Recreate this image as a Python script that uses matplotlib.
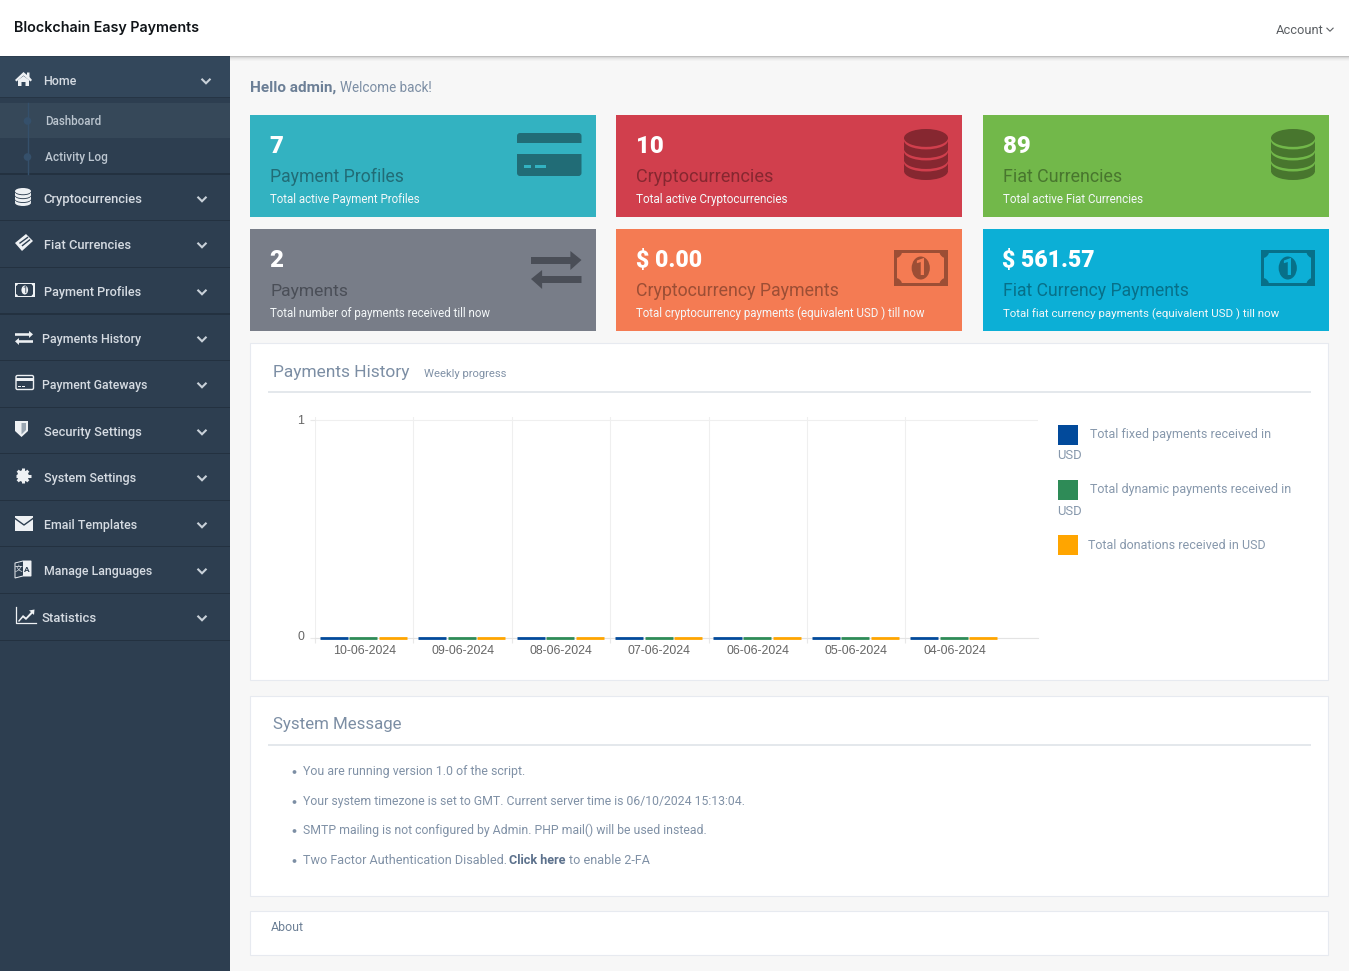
import matplotlib
matplotlib.use('Agg')
import matplotlib.pyplot as plt
import numpy as np
from matplotlib.patches import Rectangle, Ellipse, Circle, Polygon, FancyBboxPatch

# chart data
dates = ['10-06-2024', '09-06-2024', '08-06-2024', '07-06-2024', '06-06-2024', '05-06-2024', '04-06-2024']
fixed_usd = [0, 0, 0, 0, 0, 0, 0]
dynamic_usd = [0, 0, 0, 0, 0, 0, 0]
donations_usd = [0, 0, 0, 0, 0, 0, 0]
series_names = ['Total fixed payments received in', 'Total dynamic payments received in', 'Total donations received in USD']
series_colors = ['#024a9b', '#2e8b57', '#ffa500']

# sidebar: label, text left, text right, text y
menu_items = [
    ('Home', 43.5, 77, 80.5),
    ('Cryptocurrencies', 43.5, 142.5, 198.5),
    ('Fiat Currencies', 43.5, 130, 244.5),
    ('Payment Profiles', 43.5, 140.5, 291.5),
    ('Payments History', 41.5, 141, 338.5),
    ('Payment Gateways', 41.5, 147, 384.5),
    ('Security Settings', 43.5, 141.5, 431.5),
    ('System Settings', 43.5, 136, 477.5),
    ('Email Templates', 43.5, 137, 524.5),
    ('Manage Languages', 43.5, 152.5, 570.5),
    ('Statistics', 41, 96, 617.5),
]
separators = [174, 220.5, 267.5, 314, 360.5, 407.5, 453.5, 500.5, 546.5, 593.5, 640.5]

# stat cards: box, colours, number, number size, title, subtitle, right edges of title and subtitle
cards = [
    (250, 115, '#33b2c1', '#216c76', '7', 24, 'Payment Profiles', 'Total active Payment Profiles', 404, 420.5),
    (616, 115, '#d13f4d', '#862730', '10', 24, 'Cryptocurrencies', 'Total active Cryptocurrencies', 773, 788.5),
    (983, 115, '#72b84a', '#48762e', '89', 24, 'Fiat Currencies', 'Total active Fiat Currencies', 1122.5, 1144),
    (250, 229, '#787d88', '#4a4e57', '2', 24, 'Payments', 'Total number of payments received till now', 348, 491),
    (616, 229, '#f47b53', '#9c4e35', '$ 0.00', 23, 'Cryptocurrency Payments', 'Total cryptocurrency payments (equivalent USD ) till now', 840, 926),
    (983, 229, '#0cafd6', '#077089', '$ 561.57', 23, 'Fiat Currency Payments', 'Total fiat currency payments (equivalent USD ) till now', 1190, 1279),
]

messages = [
    ('You are running version 1.0 of the script.', 525, 771),
    ('Your system timezone is set to GMT. Current server time is 06/10/2024 15:13:04.', 745, 801),
    ('SMTP mailing is not configured by Admin. PHP mail() will be used instead.', 707, 830),
    ('Two Factor Authentication Disabled.', 505.5, 860),
]

W, H = 1349, 971
FONT = 'Roboto'
SIDE_BG = '#2d3e50'
ICON = '#eef1f4'
LABEL = '#7c8ea4'

fig = plt.figure(figsize=(W / 100, H / 100), dpi=100, facecolor='#f7f7f7')
bg = fig.add_axes([0, 0, 1, 1], zorder=0)
bg.set_xlim(0, W)
bg.set_ylim(H, 0)
bg.axis('off')
renderer = fig.canvas.get_renderer()


def rect(x0, y0, x1, y1, color, **kw):
    bg.add_patch(Rectangle((x0, y0), x1 - x0, y1 - y0, facecolor=color, edgecolor='none', **kw))


def put(x0, x1, y, s, color, weight='normal', family=FONT, px=None):
    # size the text so that it spans x0..x1 (or use px), y is the middle of the lower case letters
    t = bg.text(x0, y, s, color=color, fontsize=10, fontweight=weight, family=family, va='baseline', ha='left')
    size = px * 0.72 if px else 10 * (x1 - x0) / t.get_window_extent(renderer).width
    t.set_fontsize(size)
    t.set_y(y + 0.26 * size / 0.72 + 1.2)
    return t


def chevron(x, y, w, h, color, lw=1.5):
    bg.plot([x - w / 2, x, x + w / 2], [y - h / 2, y + h / 2, y - h / 2], color=color, lw=lw,
            solid_capstyle='butt', solid_joinstyle='miter')


def database(x0, x1, y0, y1, col, back):
    w = x1 - x0
    cx = (x0 + x1) / 2
    eh = (y1 - y0) * 0.35
    ys = np.linspace(y0 + eh / 2, y1 - eh / 2, 4)
    gap = (y1 - y0) * 0.05
    bg.add_patch(Ellipse((cx, ys[3]), w, eh, fc=col, ec='none'))
    for k in [2, 1, 0]:
        rect(x0, ys[k], x1, ys[k + 1] - gap * 0.4, col)
        bg.add_patch(Ellipse((cx, ys[k] + gap), w, eh, fc=back, ec='none'))
        bg.add_patch(Ellipse((cx, ys[k]), w, eh, fc=col, ec='none'))


def exchange(x0, x1, y0, y1, col):
    # 50x38 box, shape taken from the big card icon
    def pts(p):
        return [(x0 + a / 50 * (x1 - x0), y0 + b / 38 * (y1 - y0)) for a, b in p]
    bg.add_patch(Polygon(pts([(0, 6), (39, 6), (39, 0), (50, 9), (39, 19), (39, 13), (0, 13)]), fc=col, ec='none'))
    bg.add_patch(Polygon(pts([(50, 25), (11, 25), (11, 19), (0, 28), (11, 38), (11, 32), (50, 32)]), fc=col, ec='none'))


def money(x0, x1, y0, y1, col, back, weight='bold'):
    w = x1 - x0
    h = y1 - y0
    m = w * 0.06
    outer = Rectangle((x0, y0), w, h, fc=col, ec='none')
    bg.add_patch(outer)
    rect(x0 + m, y0 + m, x1 - m, y1 - m, back)
    r = w * 0.16
    for cx in (x0, x1):
        for cy in (y0, y1):
            notch = Circle((cx, cy), r, fc=col, ec='none')
            bg.add_patch(notch)
            notch.set_clip_path(outer)
    bg.add_patch(Ellipse(((x0 + x1) / 2, (y0 + y1) / 2), w * 0.34, h * 0.64, fc=col, ec='none'))
    bg.text((x0 + x1) / 2, (y0 + y1) / 2 + h * 0.01, '1', color=back, fontsize=h * 0.46,
            fontweight=weight, family=FONT, ha='center', va='center')


# page frame
rect(0, 0, W, 56, '#ffffff')
for i, a in enumerate([0.22, 0.12, 0.07, 0.04, 0.02]):
    rect(230, 56 + i, W, 57 + i, '#000000', alpha=a)
rect(0, 56, 230, H, SIDE_BG)
rect(0, 57, 230, 97, '#33475b')
rect(0, 97, 230, 98.5, '#263545')
rect(0, 103, 230, 138, '#364859')
bg.plot([27.5, 27.5], [103, 174], color='#35506b', lw=1.0)
for y in [121, 157]:
    bg.add_patch(Circle((27.5, y), 3.8, fc='#35506b', ec='none'))
for y in separators:
    rect(0, y - 0.6, 230, y + 0.6, '#233140')

put(14, 199, 27, 'Blockchain Easy Payments', '#101418', weight=600, family='Inter')
put(1275.5, 1323, 29, 'Account', '#5b5f63')
chevron(1330, 29.5, 7, 3.5, '#5b5f63', lw=0.8)

for name, x0, x1, y in menu_items:
    put(x0, x1, y, name, '#d5dbe2', weight=500)
    chevron(206 if name == 'Home' else 202, y + 0.5, 9, 4.5, '#c9d1d9')
put(45, 101, 120.5, 'Dashboard', '#bcc6d0', weight=500)
put(45, 107.5, 156.5, 'Activity Log', '#bcc6d0', weight=500)

# sidebar icons
bg.add_patch(Polygon([(15, 80), (23.5, 72), (27, 75), (27, 72.5), (29.5, 72.5), (29.5, 77), (32, 80), (30.5, 81.5),
                      (23.5, 75.5), (16.5, 81.5)], fc=ICON, ec='none'))
bg.add_patch(Polygon([(18, 80), (23.5, 76), (29, 80), (29, 86), (25.5, 86), (25.5, 82), (21.5, 82), (21.5, 86), (18, 86)],
                     fc=ICON, ec='none'))
database(15, 31, 188, 206, ICON, SIDE_BG)
bg.add_patch(Polygon([(15, 243), (26, 234), (33, 241), (22, 251)], fc=ICON, ec='none'))
bg.plot([20, 27.5], [243, 237.5], color=SIDE_BG, lw=1.0)
bg.plot([22.5, 29.5], [245.5, 240], color=SIDE_BG, lw=1.0)
money(15, 34.5, 283, 297, ICON, SIDE_BG, weight='normal')
exchange(15, 33, 331, 345, ICON)
bg.add_patch(FancyBboxPatch((16, 375.5), 17.5, 14, boxstyle='round,pad=0,rounding_size=1.5', fc='none', ec=ICON, lw=1.0))
rect(15.5, 378, 34, 381.5, ICON)
rect(18, 386, 20.5, 387, ICON)
rect(21.5, 386, 25, 387, ICON)
bg.add_patch(Polygon([(15, 421), (28, 421), (28, 431), (21.5, 437), (15, 431)], fc=ICON, ec='none'))
bg.add_patch(Polygon([(21.5, 423), (26, 423), (26, 430), (21.5, 434.5)], fc='#9aa6b2', ec='none'))
for a in np.arange(0, 180, 45):
    bg.plot([23 - 7.5 * np.cos(np.radians(a)), 23 + 7.5 * np.cos(np.radians(a))],
            [476 - 7.5 * np.sin(np.radians(a)), 476 + 7.5 * np.sin(np.radians(a))], color=ICON, lw=2.2, solid_capstyle='butt')
bg.add_patch(Circle((23, 476), 5.8, fc=ICON, ec='none'))
bg.add_patch(Circle((23, 476), 2.3, fc=SIDE_BG, ec='none'))
rect(15, 516, 33, 531, ICON)
bg.plot([15, 24, 33], [518.5, 525, 518.5], color=SIDE_BG, lw=1.0)
bg.add_patch(Polygon([(15, 563), (23, 561), (31, 561), (31, 576), (23, 576), (15, 578)], fc='none', ec=ICON, lw=0.7))
rect(23, 561, 31, 576, ICON)
bg.text(27, 569, 'A', color=SIDE_BG, fontsize=6, fontweight='bold', family=FONT, ha='center', va='center')
bg.text(19, 569.5, '文', color=ICON, fontsize=5.5, family='Noto Sans CJK SC', ha='center', va='center')
bg.plot([15.5, 15.5, 35.5], [607, 623.5, 623.5], color=ICON, lw=0.9)
bg.add_patch(Polygon([(18, 621), (23, 615), (26, 617.5), (31, 612), (29, 610.5), (34.5, 609.5), (34, 615), (32.5, 613.5),
                      (26, 620), (23, 617.5), (19, 622)], fc=ICON, ec='none'))

put(250, 336, 86.5, 'Hello admin,', '#6c7f96', weight='bold')
put(340, 432, 87, 'Welcome back!', LABEL)

# stat cards
for x, y, face, dark, number, num_px, title, sub, x_title, x_sub in cards:
    rect(x, y, x + 346, y + 102, face)
    left = x + 19.5
    put(left, None, y + 31, number, '#ffffff', weight=900, px=num_px)
    put(x + 20, x_title, y + 61.5, title, dark)
    put(x + 20, x_sub, y + 84, sub, '#f4f8f9')

c = cards[0]
bg.add_patch(FancyBboxPatch((517, 133), 64.5, 43, boxstyle='round,pad=0,rounding_size=3', fc=c[3], ec='none'))
rect(517, 143, 581.5, 154, c[2])
rect(524, 165, 531, 168, c[2])
rect(535, 165, 546, 168, c[2])
database(904, 948, 129, 180, cards[1][3], cards[1][2])
database(1271, 1315, 129, 180, cards[2][3], cards[2][2])
exchange(531, 581.5, 251, 289, cards[3][3])
money(894, 947.5, 250, 286, cards[4][3], cards[4][2])
money(1261, 1314.5, 250, 286, cards[5][3], cards[5][2])

# panels
for y0, y1 in [(343.5, 680.5), (696.5, 896.5), (911.5, 955.5)]:
    bg.add_patch(Rectangle((250, y0), 1078, y1 - y0, fc='#ffffff', ec='#e7eaf0', lw=0.8))
rect(268, 391, 1311, 393, '#e4e8ec')
rect(268, 744, 1311, 746, '#e4e8ec')
put(273, 410.5, 371, 'Payments History', LABEL)
put(424, 507, 373, 'Weekly progress', '#8091a6')
put(273, 402, 723, 'System Message', LABEL)

for s, x1, y in messages:
    bg.add_patch(Circle((294.5, y + 1), 1.9, fc='#7c8ea4', ec='none'))
    put(303, x1, y, s, '#8091a6')
put(509, 566, 860, 'Click here', '#5c718c', weight='bold')
put(569, 650, 859.5, 'to enable 2-FA', '#8091a6')
put(271, 304, 927, 'About', '#6d8096')

# legend, written like the html one next to the chart
legend_y = [425, 480, 535]
legend_text = [(1090, 1270.5, 433.5), (1090, 1290, 488.5), (1088, 1265, 544.5)]
for name, color, y, (x0, x1, ty) in zip(series_names, series_colors, legend_y, legend_text):
    rect(1058, y, 1078, y + 20, color)
    put(x0, x1, ty, name, '#8798ac')
put(1057.5, None, 454.5, 'USD', '#8798ac', px=13)
put(1057.5, None, 510, 'USD', '#8798ac', px=13)

# bar chart, pixel box 315..1038 x 417..637.5
cell = 98.4
ax = fig.add_axes([315 / W, 1 - 637.5 / H, (1038 - 315) / W, (637.5 - 417) / H], zorder=2)
ax.patch.set_alpha(0)
pos = np.arange(len(dates)) + 0.5
bar_w = 0.285
step = 0.3
for k, (vals, color) in enumerate(zip([fixed_usd, dynamic_usd, donations_usd], series_colors)):
    ax.bar(pos - 0.008 + (k - 1) * step, vals, bar_w, facecolor=color, edgecolor=color, linewidth=2.0, clip_on=False, zorder=3)
ax.set_xlim(0, (1038 - 315) / cell)
ax.set_ylim(0, (637.5 - 417) / (637.5 - 420.5))
for side in ax.spines:
    ax.spines[side].set_visible(False)
ax.set_xticks(np.arange(len(dates)))
ax.set_xticklabels([])
ax.set_xticks(pos, minor=True)
ax.set_xticklabels(dates, minor=True, family='Liberation Sans', fontsize=8.9, color='#666666')
ax.set_yticks([0, 1])
ax.set_yticklabels(['0', '1'], family='Liberation Sans', fontsize=8.9, color='#666666', va='center')
ax.tick_params(axis='x', which='major', length=3.6, width=0.8, color='#e8e8e8', pad=3)
ax.tick_params(axis='x', which='minor', length=0, pad=5.7)
ax.tick_params(axis='y', length=3.6, width=0.8, color='#e8e8e8', pad=4.3)
ax.grid(True, which='major', color='#efefef', lw=0.8)
ax.axhline(0, color='#e3e3e3', lw=0.8, zorder=1, clip_on=False)
ax.set_axisbelow(True)

fig.savefig('out.png', dpi=100, facecolor=fig.get_facecolor())
